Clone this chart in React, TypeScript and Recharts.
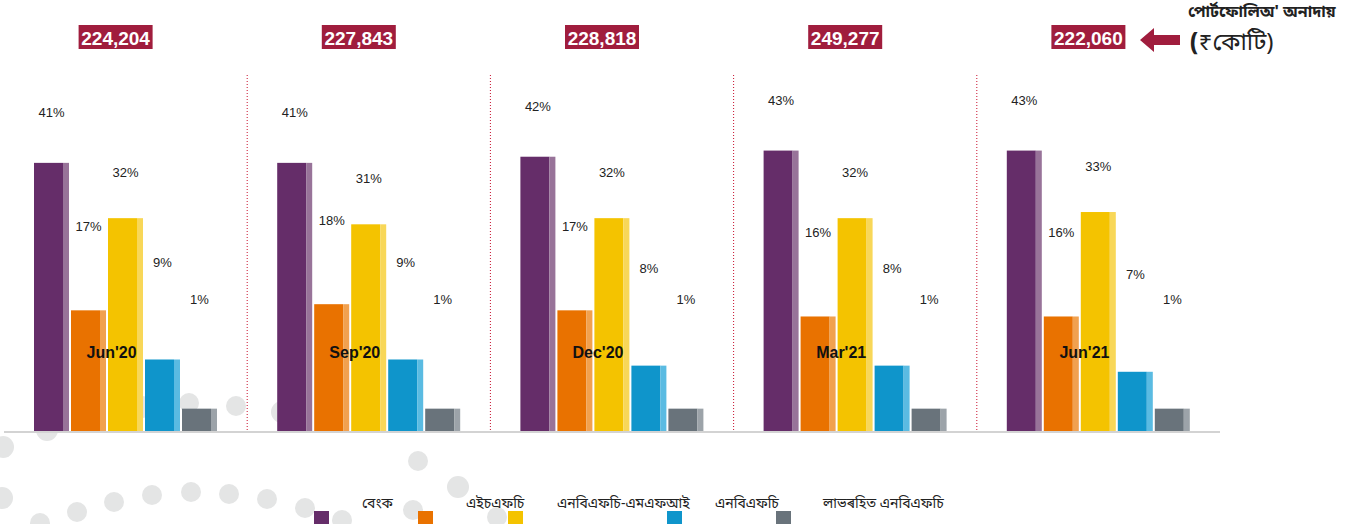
import React from "react";
import { BarChart, Bar, XAxis, YAxis, CartesianGrid, LabelList } from "recharts";

// portfolio outstanding share by lender type
const periods = ["Jun'20", "Sep'20", "Dec'20", "Mar'21", "Jun'21"];
const portfolioTotals = ["224,204", "227,843", "228,818", "249,277", "222,060"];
const banks = [41, 41, 42, 43, 43];
const hfcs = [17, 18, 17, 16, 16];
const nbfcMfis = [32, 31, 32, 32, 33];
const nbfcs = [9, 9, 8, 8, 7];
const notForProfit = [1, 1, 1, 1, 1];
const seriesNames = ["বেংক", "এইচএফচি", "এনবিএফচি-এমএফআই", "এনবিএফচি", "লাভৰহিত এনবিএফচি"];

const data = periods.map((p, i) => ({
  period: p,
  total: portfolioTotals[i],
  banks: banks[i],
  hfcs: hfcs[i],
  nbfcMfis: nbfcMfis[i],
  nbfcs: nbfcs[i],
  notForProfit: notForProfit[i],
}));

const series = [
  { key: "banks", color: "#652D69", light: "#987399", labelUp: 50 },
  { key: "hfcs", color: "#E97200", light: "#F1A14F", labelUp: 84 },
  { key: "nbfcMfis", color: "#F4C300", light: "#F8D758", labelUp: 46 },
  { key: "nbfcs", color: "#0F95CB", light: "#5ABBE2", labelUp: 97 },
  { key: "notForProfit", color: "#69737B", light: "#9CA3A9", labelUp: 109 },
];

// legend placement (px from page left) – swatch x, text x
const legendSwatchX = [314, 418, 508, 667, 776];
const legendTextX = [362, 466, 557, 715, 823];

const dots = [
  [47, 430, 11], [3, 447, 11], [142, 407, 11], [189, 403, 10], [236, 406, 10], [282, 412, 11],
  [2, 498, 11], [40, 523, 10], [77, 512, 10], [114, 502, 10], [152, 495, 10], [191, 492, 10],
  [229, 494, 10], [267, 499, 10], [305, 508, 10], [342, 520, 10], [413, 510, 10], [458, 487, 11],
  [418, 461, 10], [497, 517, 10],
];

const FONT = "'Liberation Sans', Arial, sans-serif";
const BN_FONT = "'Noto Sans Bengali', 'Lohit Assamese', 'Noto Sans', sans-serif";

const makeShape = (color: string, light: string) => (props: any) => {
  const { x, y, width, height, background } = props;
  const bottom = background ? background.y + background.height : y + height;
  const h = bottom - y;
  if (h <= 0) return null;
  const strip = 6;
  return (
    <g>
      <rect x={x} y={y} width={width - strip} height={h} fill={color} />
      <rect x={x + width - strip} y={y} width={strip} height={h} fill={light} />
    </g>
  );
};

const makeLabel = (up: number) => (props: any) => {
  const { x, y, width, value } = props;
  return (
    <text x={x + width / 2} y={y - up} textAnchor="middle" dominantBaseline="central" fontFamily={FONT} fontSize={13} fill="#222">
      {value}%
    </text>
  );
};

const PeriodTick = (props: any) => {
  const { x, y, payload } = props;
  return (
    <text x={x - 14} y={y - 80} textAnchor="middle" dominantBaseline="central" fontFamily={FONT} fontSize={16} fontWeight="bold" fill="#111">
      {payload.value}
    </text>
  );
};

const TotalTick = (props: any) => {
  const { x, y, payload } = props;
  const cx = x - 10;
  const cy = y - 38;
  return (
    <g>
      <rect x={cx - 37} y={cy - 12} width={74} height={24} fill="#A01D3D" />
      <text x={cx} y={cy + 1} textAnchor="middle" dominantBaseline="central" fontFamily={FONT} fontSize={19} fontWeight="bold" fill="#fff">
        {payload.value}
      </text>
    </g>
  );
};

export default function App() {
  return (
    <div style={{ position: "fixed", left: 0, top: 0, width: 1364, height: 524, background: "#fff", overflow: "hidden" }}>
      <svg width={1364} height={524} style={{ position: "absolute", left: 0, top: 0 }}>
        {dots.map(([cx, cy, r], i) => (
          <circle key={i} cx={cx} cy={cy} r={r} fill="#E4E5E5" />
        ))}
      </svg>
      <div style={{ position: "absolute", left: 0, top: 0 }}>
        <BarChart
          width={1364}
          height={524}
          data={data}
          margin={{ top: 0, right: 144, left: 4, bottom: 0 }}
          barSize={35}
          barGap={2}
        >
          <CartesianGrid
            xAxisId="bottom"
            horizontal={false}
            stroke="#C8102E"
            strokeDasharray="1 2"
            verticalCoordinatesGenerator={({ offset }: any) =>
              [1, 2, 3, 4].map((k) => offset.left + (offset.width * k) / periods.length)
            }
          />
          <XAxis
            xAxisId="top"
            orientation="top"
            dataKey="total"
            height={75}
            axisLine={false}
            tickLine={false}
            tickSize={0}
            tickMargin={0}
            tick={<TotalTick />}
            interval={0}
          />
          <XAxis
            xAxisId="bottom"
            dataKey="period"
            height={92}
            axisLine={{ stroke: "#D3D3D3", strokeWidth: 2 }}
            tickLine={false}
            tickSize={0}
            tickMargin={0}
            tick={<PeriodTick />}
            interval={0}
          />
          <YAxis hide domain={[-2.8, 55.3]} />
          {series.map((s, i) => (
            <Bar
              key={s.key}
              xAxisId="bottom"
              dataKey={s.key}
              name={seriesNames[i]}
              fill={s.color}
              shape={makeShape(s.color, s.light)}
              isAnimationActive={false}
            >
              <LabelList dataKey={s.key} content={makeLabel(s.labelUp)} />
            </Bar>
          ))}
        </BarChart>
      </div>
      {series.map((s, i) => (
        <React.Fragment key={s.key}>
          <div style={{ position: "absolute", left: legendSwatchX[i], top: 511, width: 15, height: 15, background: s.color }} />
          <div style={{ position: "absolute", left: legendTextX[i], top: 495, fontFamily: BN_FONT, fontSize: 14, color: "#222", whiteSpace: "nowrap" }}>
            {seriesNames[i]}
          </div>
        </React.Fragment>
      ))}
      <svg width={45} height={30} style={{ position: "absolute", left: 1138, top: 25 }}>
        <polygon points="2,15 16,3 16,10 42,10 42,20 16,20 16,27" fill="#A01D3D" />
      </svg>
      <div style={{ position: "absolute", left: 1188, top: 2, fontFamily: BN_FONT, fontSize: 16, fontWeight: "bold", color: "#222", whiteSpace: "nowrap" }}>
        পোৰ্টফোলিঅ' অনাদায়
      </div>
      <div style={{ position: "absolute", left: 1190, top: 28, fontFamily: BN_FONT, fontSize: 24, color: "#222", whiteSpace: "nowrap" }}>
        <span style={{ fontWeight: "bold" }}>(</span>₹কোটি)
      </div>
    </div>
  );
}
